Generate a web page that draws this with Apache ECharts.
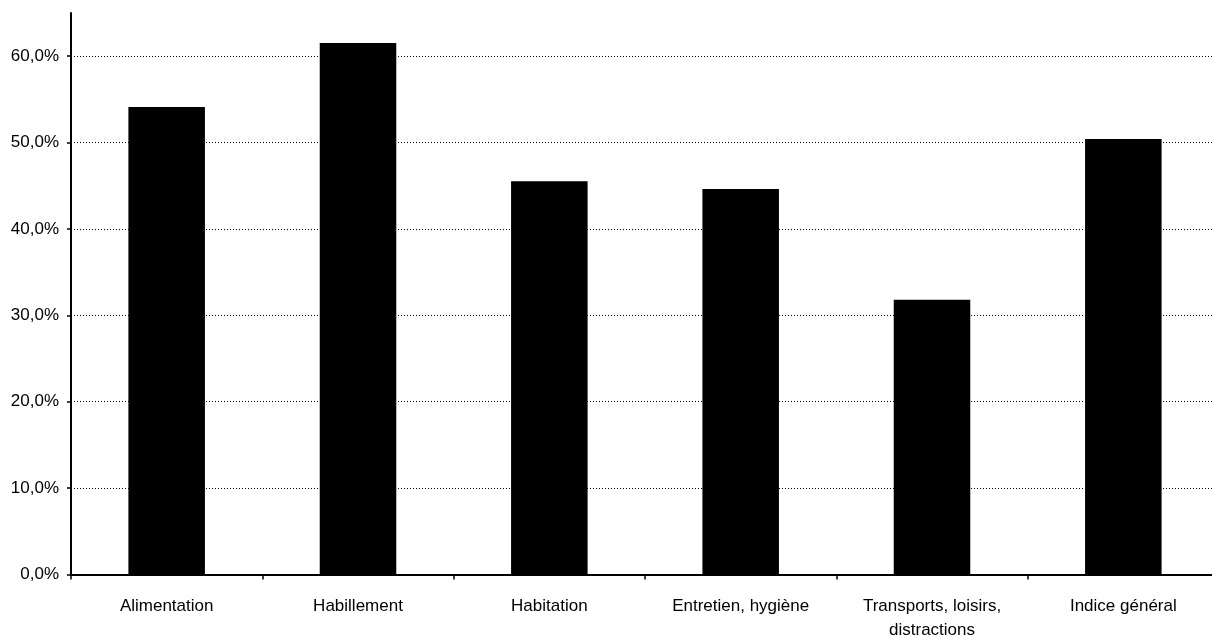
<!DOCTYPE html>
<html>
<head>
<meta charset="utf-8">
<script src="https://cdn.jsdelivr.net/npm/echarts@6/dist/echarts.min.js"></script>
<style>
html,body{margin:0;padding:0;background:#fff;}
#c{width:1212px;height:636px;}
</style>
</head>
<body>
<div id="c"></div>
<script>
const categories = ['Alimentation', 'Habillement', 'Habitation', 'Entretien, hygiène', 'Transports, loisirs,\ndistractions', 'Indice général'];
const values = [54.1, 61.5, 45.5, 44.6, 31.8, 50.4];
const yMin = 0, yMax = 60, yStep = 10, axisTop = 65;

const font = "'Liberation Sans', Arial, sans-serif";
const chart = echarts.init(document.getElementById('c'));
chart.setOption({
  animation: false,
  backgroundColor: '#fff',
  grid: [
    {left: 71, right: -7, top: 13, bottom: 61.5, outerBoundsMode: 'none', containLabel: false},
    {left: 71, right: -7, top: 56, bottom: 61.5, outerBoundsMode: 'none', containLabel: false}
  ],
  xAxis: [
    {gridIndex: 0, type: 'category', data: categories, show: false},
    {
      gridIndex: 1, type: 'category', data: categories,
      axisLine: {lineStyle: {color: '#000', width: 2}},
      axisTick: {show: true, length: 5, alignWithLabel: false, lineStyle: {color: '#000', width: 1.5}},
      axisLabel: {color: '#000', fontFamily: font, fontSize: 17, margin: 20, lineHeight: 24, interval: 0}
    }
  ],
  yAxis: [
    {
      gridIndex: 0, type: 'value', min: yMin, max: axisTop,
      axisLine: {show: true, lineStyle: {color: '#000', width: 2}},
      axisTick: {show: false}, axisLabel: {show: false}, splitLine: {show: false}
    },
    {
      gridIndex: 1, type: 'value', min: yMin, max: yMax, interval: yStep,
      axisLine: {show: true, lineStyle: {color: '#000', width: 2}},
      axisTick: {show: true, length: 4, lineStyle: {color: '#000', width: 1.5}},
      axisLabel: {color: '#000', fontFamily: font, fontSize: 17, margin: 12,
        formatter: v => v.toFixed(1).replace('.', ',') + '%'},
      splitLine: {show: true, lineStyle: {color: '#000', width: 1, type: [1, 2]}}
    }
  ],
  series: [{
    type: 'bar', xAxisIndex: 1, yAxisIndex: 1,
    data: values,
    barWidth: '40%',
    clip: false,
    itemStyle: {color: '#000'},
    silent: true
  }]
});
</script>
</body>
</html>
